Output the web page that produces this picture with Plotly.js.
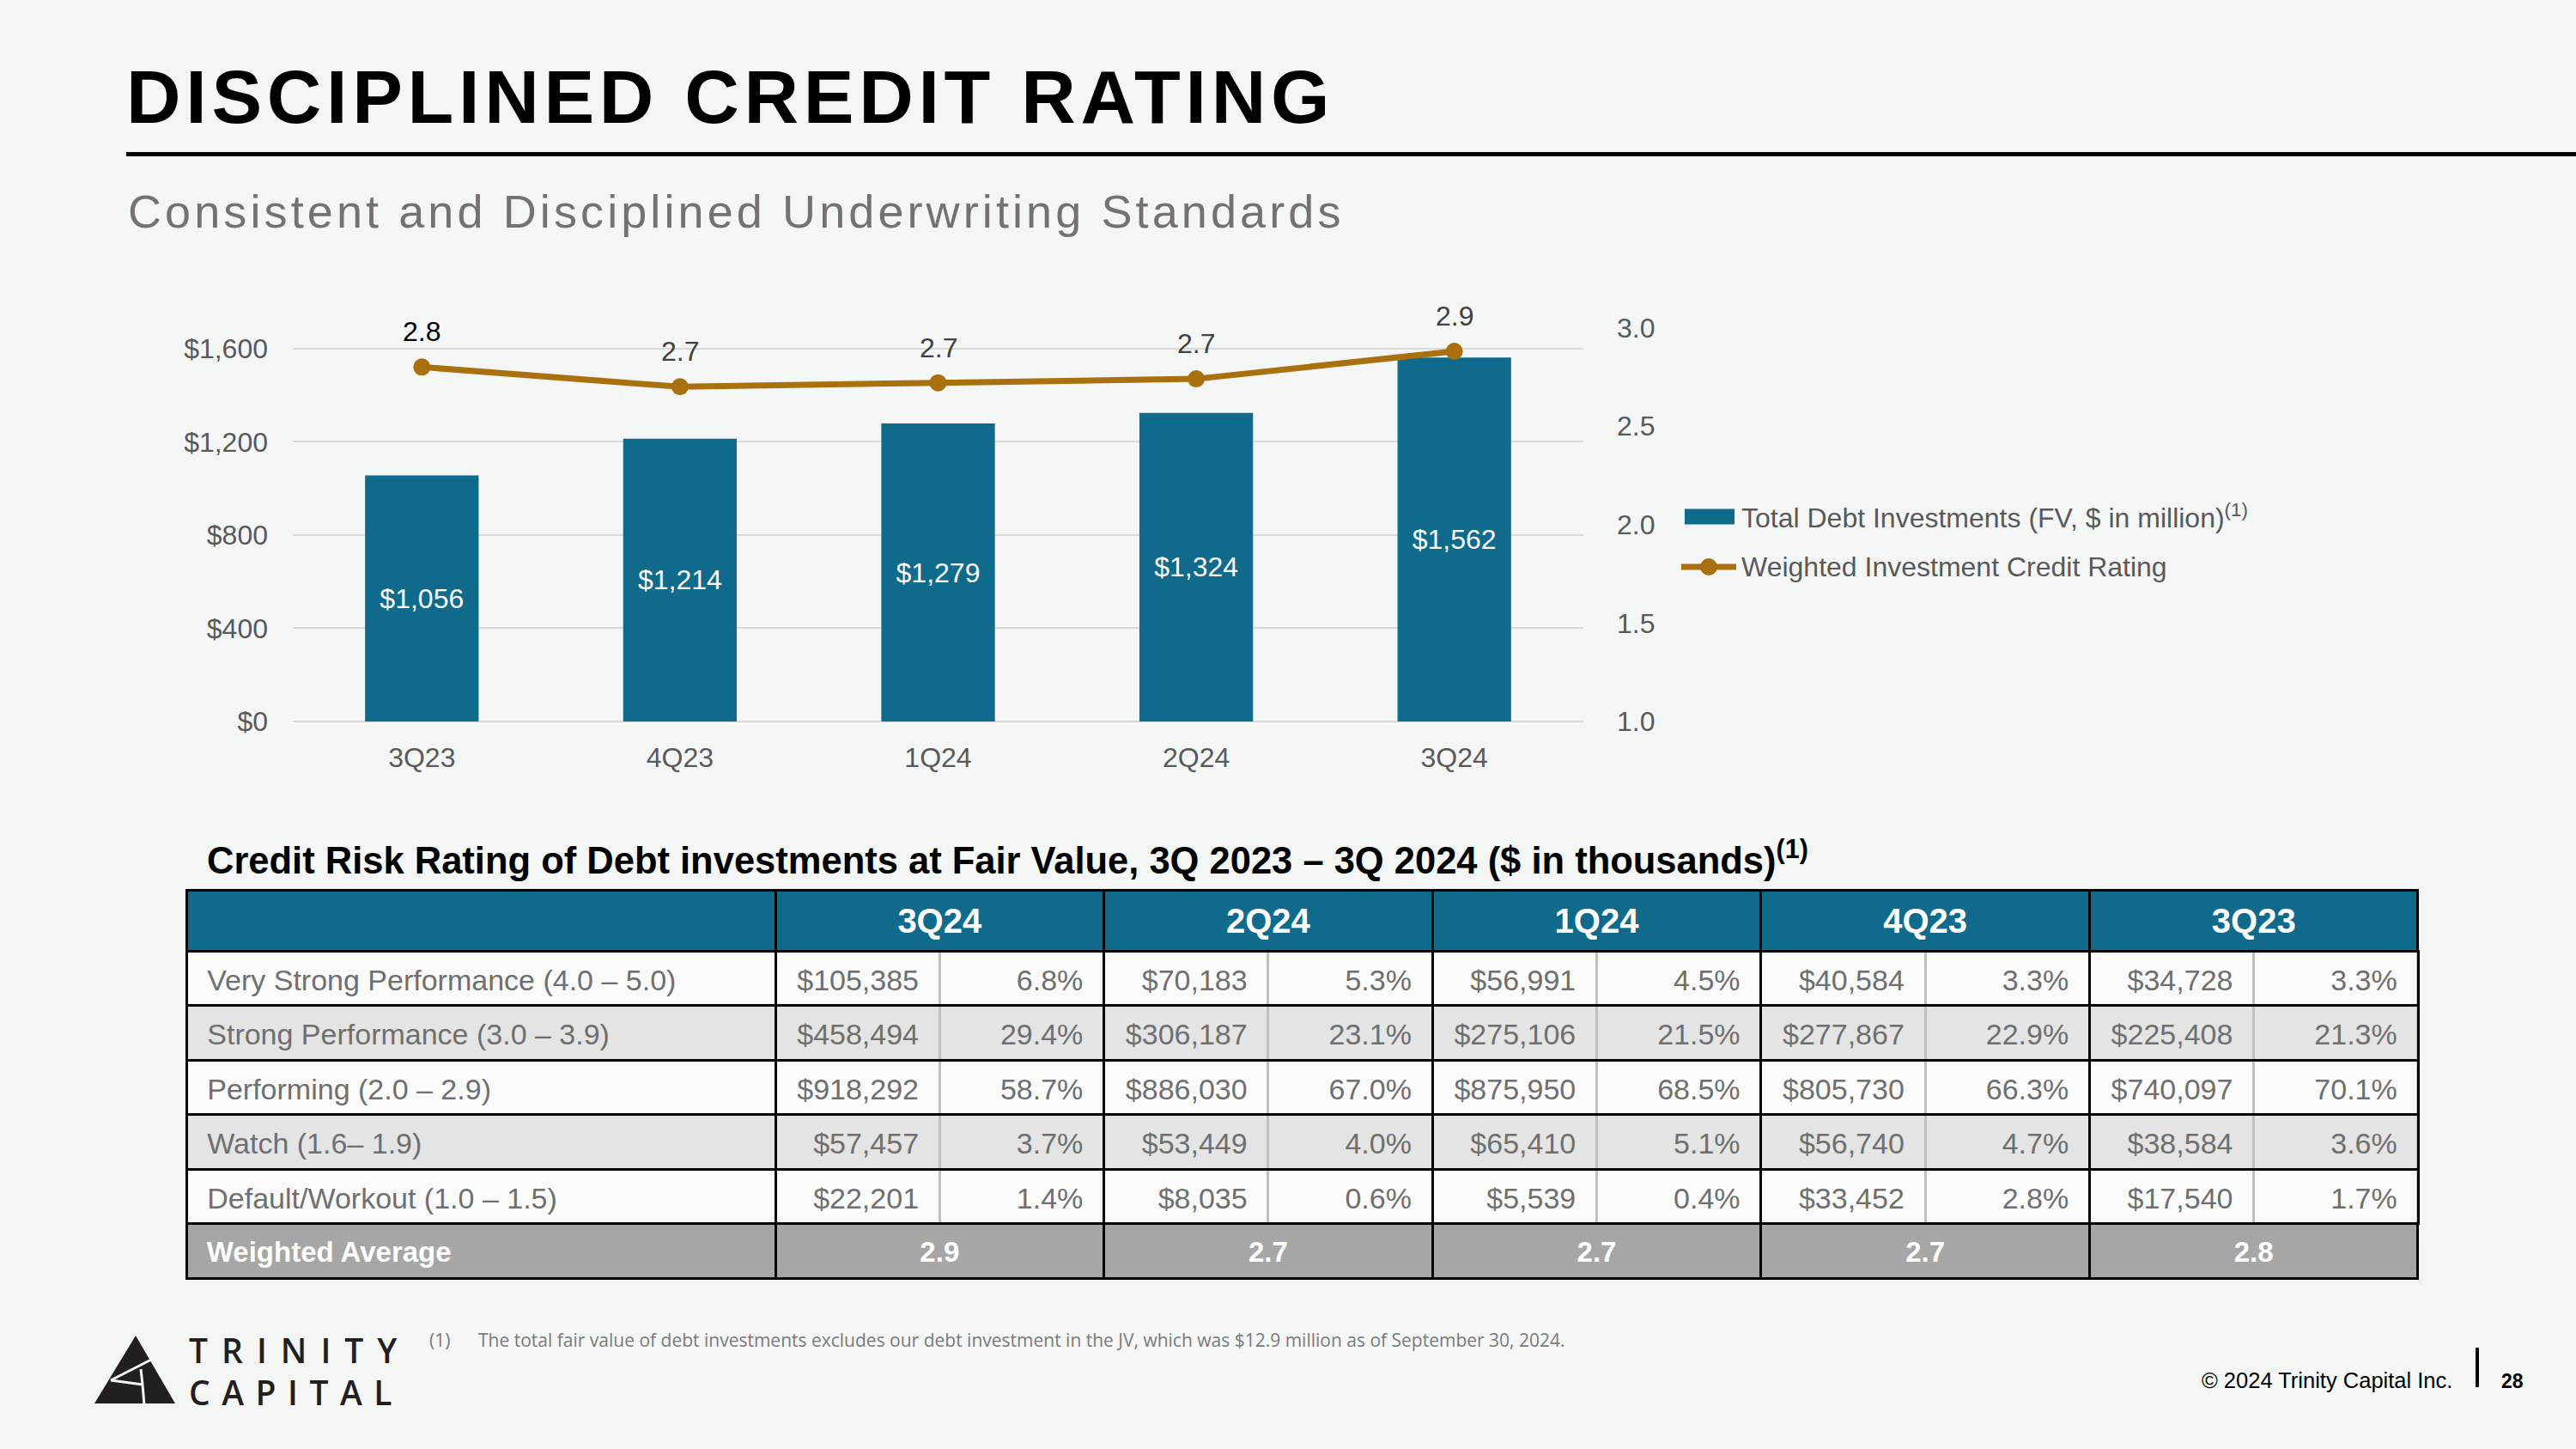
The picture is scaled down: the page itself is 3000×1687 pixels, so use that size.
<!DOCTYPE html>
<html>
<head>
<meta charset="utf-8">
<script src="https://cdn.plot.ly/plotly-3.0.1.min.js"></script>
<style>
  html, body { margin: 0; padding: 0; background: #F4F5F5; }
  #chart { width: 3000px; height: 1687px; }
</style>
</head>
<body>
<div id="chart"></div>
<script>
// ---------------- DATA ----------------
const quarters = ['3Q23', '4Q23', '1Q24', '2Q24', '3Q24'];
const totalDebtInvestments = [1056, 1214, 1279, 1324, 1562];      // $ in million
const creditRating = [2.80, 2.70, 2.72, 2.74, 2.88];               // weighted investment credit rating
const leftTickValues = [0, 400, 800, 1200, 1600];
const leftTickLabels = ['$0', '$400', '$800', '$1,200', '$1,600'];
const rightTickValues = [1.0, 1.5, 2.0, 2.5, 3.0];
const rightTickLabels = ['1.0', '1.5', '2.0', '2.5', '3.0'];

const tablePeriods = ['3Q24', '2Q24', '1Q24', '4Q23', '3Q23'];
const ratingCategories = [
  'Very Strong Performance (4.0 – 5.0)',
  'Strong Performance (3.0 – 3.9)',
  'Performing (2.0 – 2.9)',
  'Watch (1.6– 1.9)',
  'Default/Workout (1.0 – 1.5)'
];
const fv3Q24 = [105385, 458494, 918292, 57457, 22201];
const pct3Q24 = [6.8, 29.4, 58.7, 3.7, 1.4];
const fv2Q24 = [70183, 306187, 886030, 53449, 8035];
const pct2Q24 = [5.3, 23.1, 67.0, 4.0, 0.6];
const fv1Q24 = [56991, 275106, 875950, 65410, 5539];
const pct1Q24 = [4.5, 21.5, 68.5, 5.1, 0.4];
const fv4Q23 = [40584, 277867, 805730, 56740, 33452];
const pct4Q23 = [3.3, 22.9, 66.3, 4.7, 2.8];
const fv3Q23 = [34728, 225408, 740097, 38584, 17540];
const pct3Q23 = [3.3, 21.3, 70.1, 3.6, 1.7];
const weightedAverage = [2.9, 2.7, 2.7, 2.7, 2.8];

// ---------------- STYLE / GEOMETRY ----------------
const W = 3000, H = 1687;
const px = x => x / W;
const py = y => 1 - y / H;
const FONT = 'Liberation Sans, Arial, Helvetica, sans-serif';
const TEAL = '#0F6A8B';
const GOLD = '#A8700F';
const AXIS_GRAY = '#595959';
const TABLE_TEXT = '#6F6F6F';
const ROW_WHITE = '#FAFAFA';
const ROW_GRAY = '#E4E4E4';
const AVG_GRAY = '#A6A6A6';
const DIVIDER = '#BFBFBF';
const BG = '#F4F5F5';
const CLEAR = 'rgba(0,0,0,0)';

// ---------------- CHART TRACES ----------------
const barTrace = {
  type: 'bar', x: quarters, y: totalDebtInvestments, xaxis: 'x', yaxis: 'y',
  marker: { color: TEAL }, width: 0.44,
  texttemplate: '$%{y:,}', textposition: 'inside', insidetextanchor: 'middle',
  textangle: 0, constraintext: 'none',
  textfont: { family: FONT, size: 32, color: '#FFFFFF' },
  hoverinfo: 'skip', showlegend: false
};
const lineTrace = {
  type: 'scatter', mode: 'lines+markers', x: quarters, y: creditRating, xaxis: 'x', yaxis: 'y2',
  line: { color: GOLD, width: 7 }, marker: { color: GOLD, size: 20 },
  cliponaxis: false, hoverinfo: 'skip', showlegend: false
};

// ---------------- TABLE TRACES ----------------
const TL = 217, TR = 2816, FIRST_W = 686;
const SUB_W = (TR - TL - FIRST_W) / 10;
const HEAD_TOP = 1036, HEAD_H = 71, ROW_H = 63.5;
const BODY_TOP = HEAD_TOP + HEAD_H;
const AVG_TOP = BODY_TOP + 5 * ROW_H;
const TEXT_SHIFT = 12;
const LINE_W = 3;

const dom = (top, height, shift) => ({ x: [px(TL), px(TR)], y: [py(top + shift + height + 8), py(top + shift)] });
const wide6 = [FIRST_W].concat(tablePeriods.map(() => SUB_W * 2));
const wide11 = [FIRST_W].concat(Array(10).fill(SUB_W));
const blank = n => Array(n).fill('');
const padL = s => '\u00a0\u2009' + s;
const padR = s => s + '\u00a0\u2009';
const fmtFV = v => '$' + v.toLocaleString('en-US');
const fmtPct = v => v.toFixed(1) + '%';

const fvByPeriod = [fv3Q24, fv2Q24, fv1Q24, fv4Q23, fv3Q23];
const pctByPeriod = [pct3Q24, pct2Q24, pct1Q24, pct4Q23, pct3Q23];
const bodyColumns = [ratingCategories.map(padL)];
const bodyAlign = ['left'];
const bodyLineColors = ['#000000'];
fvByPeriod.forEach((fv, k) => {
  bodyColumns.push(fv.map(v => padR(fmtFV(v))));
  bodyColumns.push(pctByPeriod[k].map(v => padR(fmtPct(v))));
  bodyAlign.push('right', 'right');
  bodyLineColors.push('#000000', DIVIDER);
});
const rowFills = ratingCategories.map((_, r) => (r % 2 === 0 ? ROW_WHITE : ROW_GRAY));

const headerBox = {
  type: 'table', domain: dom(HEAD_TOP, HEAD_H, 0), columnwidth: wide6,
  header: { values: blank(6), height: HEAD_H, fill: { color: TEAL }, line: { color: '#000000', width: LINE_W } }
};
const bodyBox = {
  type: 'table', domain: dom(BODY_TOP, 5 * ROW_H, 0), columnwidth: wide11,
  header: { values: blank(11), height: ROW_H, fill: { color: rowFills[0] },
            line: { color: bodyLineColors, width: LINE_W } },
  cells: { values: bodyColumns.map(c => c.slice(1).map(() => '')), height: ROW_H,
           fill: { color: bodyColumns.map(() => rowFills.slice(1)) },
           line: { color: bodyLineColors, width: LINE_W } }
};
const bodyRowLines = {
  type: 'table', domain: dom(BODY_TOP, 5 * ROW_H, 0), columnwidth: [1],
  header: { values: [''], height: ROW_H, fill: { color: CLEAR }, line: { color: '#000000', width: LINE_W } },
  cells: { values: [ratingCategories.slice(1).map(() => '')], height: ROW_H,
           fill: { color: CLEAR }, line: { color: '#000000', width: LINE_W } }
};
const avgBox = {
  type: 'table', domain: dom(AVG_TOP, ROW_H, 0), columnwidth: wide6,
  header: { values: blank(6), height: ROW_H, fill: { color: AVG_GRAY }, line: { color: '#000000', width: LINE_W } }
};
const headerText = {
  type: 'table', domain: dom(HEAD_TOP, HEAD_H, TEXT_SHIFT), columnwidth: wide6,
  header: { values: [''].concat(tablePeriods), height: HEAD_H, align: 'center',
            fill: { color: CLEAR }, line: { color: CLEAR, width: 0 },
            font: { family: FONT, size: 40, color: '#FFFFFF', weight: 'bold' } }
};
const bodyText = {
  type: 'table', domain: dom(BODY_TOP, 5 * ROW_H, TEXT_SHIFT), columnwidth: wide11,
  header: { values: bodyColumns.map(c => c[0]), height: ROW_H, align: bodyAlign,
            fill: { color: CLEAR }, line: { color: CLEAR, width: 0 },
            font: { family: FONT, size: 34, color: TABLE_TEXT } },
  cells: { values: bodyColumns.map(c => c.slice(1)), height: ROW_H, align: bodyAlign,
           fill: { color: CLEAR }, line: { color: CLEAR, width: 0 },
           font: { family: FONT, size: 34, color: TABLE_TEXT } }
};
const avgText = {
  type: 'table', domain: dom(AVG_TOP, ROW_H, TEXT_SHIFT), columnwidth: wide6,
  header: { values: [padL('Weighted Average')].concat(weightedAverage.map(v => v.toFixed(1))), height: ROW_H,
            align: ['left'].concat(tablePeriods.map(() => 'center')),
            fill: { color: CLEAR }, line: { color: CLEAR, width: 0 },
            font: { family: FONT, size: 33, color: '#FFFFFF', weight: 'bold' } }
};

// ---------------- ANNOTATIONS & SHAPES ----------------
const annotations = [];
const shapes = [];
function paperText(x, y, text, font, xanchor) {
  annotations.push({ xref: 'paper', yref: 'paper', x: px(x), y: py(y), text: text, showarrow: false,
                     xanchor: xanchor || 'left', yanchor: 'middle', font: font });
}

// line labels
creditRating.forEach((v, i) => {
  annotations.push({ xref: 'x', yref: 'y2', x: quarters[i], y: v, text: v.toFixed(1), showarrow: false,
                     yshift: 41, font: { family: FONT, size: 32, color: i === 0 ? '#000000' : '#404040' } });
});

// titles
paperText(145, 112.5, '<span style="letter-spacing:5.7px">DISCIPLINED CREDIT RATING</span>',
          { family: FONT, size: 88, color: '#000000', weight: 'bold' });
shapes.push({ type: 'line', xref: 'paper', yref: 'paper', x0: px(147), x1: 1, y0: py(179.5), y1: py(179.5),
              line: { color: '#000000', width: 5 } });
paperText(147, 245.5, '<span style="letter-spacing:4.1px">Consistent and Disciplined Underwriting Standards</span>',
          { family: FONT, size: 54, color: '#767171' });

// custom legend
shapes.push({ type: 'rect', xref: 'paper', yref: 'paper', x0: px(1962), x1: px(2020), y0: py(610.5), y1: py(592.5),
              fillcolor: TEAL, line: { width: 0 } });
paperText(2026, 601, 'Total Debt Investments (FV, $ in million)<sup>(1)</sup>', { family: FONT, size: 32, color: AXIS_GRAY });
shapes.push({ type: 'line', xref: 'paper', yref: 'paper', x0: px(1958), x1: px(2022), y0: py(660), y1: py(660),
              line: { color: GOLD, width: 7 } });
shapes.push({ type: 'circle', xref: 'paper', yref: 'paper', x0: px(1980), x1: px(2000), y0: py(670), y1: py(650),
              fillcolor: GOLD, line: { width: 0 } });
paperText(2026, 660, 'Weighted Investment Credit Rating', { family: FONT, size: 32, color: AXIS_GRAY });

// table title
paperText(239, 998, 'Credit Risk Rating of Debt investments at Fair Value, 3Q 2023 – 3Q 2024 ($ in thousands)<sup>(1)</sup>',
          { family: FONT, size: 43.5, color: '#000000', weight: 'bold' });

// footnote
paperText(498, 1560, '(1)', { family: 'Open Sans, sans-serif', size: 21, color: '#7A7A7A' });
paperText(555, 1560, 'The total fair value of debt investments excludes our debt investment in the JV, which was $12.9 million as of September 30, 2024.',
          { family: 'Open Sans, sans-serif', size: 21, color: '#7A7A7A' });

// footer
paperText(2858, 1607, '© 2024 Trinity Capital Inc.', { family: FONT, size: 25.5, color: '#000000' }, 'right');
shapes.push({ type: 'line', xref: 'paper', yref: 'paper', x0: px(2885), x1: px(2885), y0: py(1569), y1: py(1615),
              line: { color: '#000000', width: 4 } });
paperText(2911, 1608, '28', { family: FONT, size: 23, color: '#000000', weight: 'bold' });

// logo
const LOGO = '#231F20';
shapes.push({ type: 'path', xref: 'paper', yref: 'paper',
              path: 'M ' + px(110) + ' ' + py(1634) + ' L ' + px(158) + ' ' + py(1555) + ' L ' + px(204) + ' ' + py(1634) + ' Z',
              fillcolor: LOGO, line: { width: 0 } });
[[129, 1607, 176, 1583], [129, 1607, 166, 1612], [166, 1612, 168, 1636], [166, 1612, 164, 1594]].forEach(s => {
  shapes.push({ type: 'line', xref: 'paper', yref: 'paper', x0: px(s[0]), y0: py(s[1]), x1: px(s[2]), y1: py(s[3]),
                line: { color: BG, width: 3 } });
});
paperText(218, 1571, '<span style="letter-spacing:16px">TRINITY</span>', { family: 'Open Sans, sans-serif', size: 39, color: LOGO, weight: 600 });
paperText(218, 1620, '<span style="letter-spacing:13.5px">CAPITAL</span>', { family: 'Open Sans, sans-serif', size: 39, color: LOGO, weight: 600 });

// ---------------- LAYOUT ----------------
const tickFont = { family: FONT, size: 32, color: AXIS_GRAY };
const layout = {
  width: W, height: H,
  margin: { l: 0, r: 0, t: 0, b: 0, pad: 0 },
  paper_bgcolor: BG, plot_bgcolor: CLEAR,
  font: { family: FONT },
  showlegend: false,
  bargap: 0.56,
  xaxis: { domain: [px(341), px(1844)], type: 'category', tickfont: tickFont, showgrid: false, zeroline: false,
           showline: false, ticks: '', ticklabelstandoff: 20, fixedrange: true },
  yaxis: { domain: [py(840), py(381.5)], range: [0, 1690], tickvals: leftTickValues, ticktext: leftTickLabels,
           showgrid: true, gridcolor: '#D9D9D9', gridwidth: 2, zeroline: true, zerolinecolor: '#D9D9D9', zerolinewidth: 2,
           showline: false, ticks: '', tickfont: tickFont, ticklabelstandoff: 28, fixedrange: true },
  yaxis2: { overlaying: 'y', side: 'right', range: [1, 3], tickvals: rightTickValues, ticktext: rightTickLabels,
            showgrid: false, zeroline: false, showline: false, ticks: '', tickfont: tickFont,
            ticklabelstandoff: 38, fixedrange: true },
  annotations: annotations,
  shapes: shapes
};

Plotly.newPlot('chart',
  [barTrace, lineTrace, headerBox, bodyBox, bodyRowLines, avgBox, headerText, bodyText, avgText],
  layout, { displayModeBar: false, responsive: false });
</script>
</body>
</html>
